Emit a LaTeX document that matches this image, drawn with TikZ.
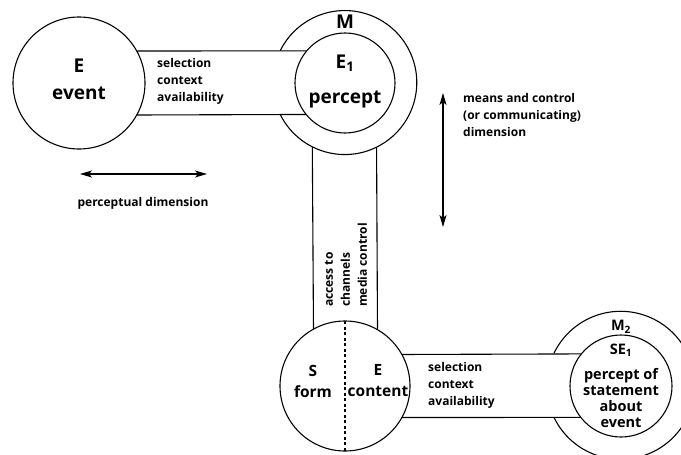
\documentclass[tikz,border=0pt]{standalone}
\usepackage{fontspec}
\setmainfont{Open Sans}
\usetikzlibrary{arrows.meta}

\begin{document}
\begin{tikzpicture}[
      x=1pt, y=-1pt,
      disc/.style={circle, draw, line width=1.1pt, inner sep=0pt, outer sep=0pt,
                   minimum size=#1},
      halo/.style={circle, draw=none, inner sep=0pt, outer sep=0pt,
                   minimum size=#1},
      band/.style={line width=1.1pt},
      big/.style={font=\bfseries\fontsize{19}{27}\selectfont, align=center},
      mid/.style={font=\bfseries\fontsize{15.5}{21}\selectfont, align=center},
      tight/.style={font=\bfseries\fontsize{14.5}{16}\selectfont, align=center},
      note/.style={font=\bfseries\fontsize{12}{17}\selectfont, align=left,
                   inner sep=0pt},
      dimarrow/.style={{Stealth[length=12pt,width=7pt,inset=3pt]}-{Stealth[length=12pt,width=7pt,inset=3pt]},
                       line width=1.1pt}
    ]
    \useasboundingbox (0,0) rectangle (681,455);

    \node[disc=132pt] (ev) at (79,83) {};
    \node[halo=144pt] (m) at (345,83) {};
    \node[disc=100pt] (pc) at (345,83) {};
    \node[disc=130pt] (sf) at (345,386) {};
    \node[halo=148pt] (mtwo) at (621,386) {};
    \node[disc=102pt] (se) at (621,386) {};

    \draw[band] (m.206.4) arc[start angle=206.4, end angle=513.6, radius=72pt];
    \draw[band] (mtwo.205.6) arc[start angle=205.6, end angle=514.4, radius=74pt];

    \draw[band] (ev.29) -- (pc.140.2);
    \draw[band] (ev.-29) -- (pc.219.8);
    \draw[band] (m.243.6) -- (sf.119.5);
    \draw[band] (m.296.4) -- (sf.60.5);
    \draw[band] (sf.29.5) -- (se.141.1);
    \draw[band] (sf.-29.5) -- (se.218.9);
    \draw[band, dash pattern=on 3pt off 2.5pt] (sf.north) -- (sf.south);

    \node[big] (evt) at (79,79) {E\\event};
    \node[big] (mlbl) at (345,21.5) {M};
    \node[big] (pct) at (345,81) {E\textsubscript{1}\\[8pt]percept};
    \node[mid] (st) at (313,381) {S\\form};
    \node[mid] (ct) at (378,381) {E\\content};
    \node[tight] (mtwolbl) at (621,327) {M\textsubscript{2}};
    \node[tight] (set) at (621,386)
      {SE\textsubscript{1}\\[9pt]percept of\\statement\\about\\event};

    \node[note, anchor=west] (sel) at (157,81) {selection\\context\\availability};
    \node[note, anchor=west] (seltwo) at (428,385) {selection\\context\\availability};
    \node[note, rotate=90, anchor=west] (acc) at (346,307) {access to\\channels\\media control};
    \node[note, anchor=west] (means) at (463,115)
      {means and control\\(or communicating)\\dimension};
    \node[note] (perc) at (143,203) {perceptual dimension};

    \coordinate (pl) at (80,174);
    \coordinate (pr) at (207,174);
    \coordinate (mt) at (443,93);
    \coordinate (mb) at (443,227);
    \draw[dimarrow] (pl) -- (pr);
    \draw[dimarrow] (mt) -- (mb);
  \end{tikzpicture}
\end{document}
